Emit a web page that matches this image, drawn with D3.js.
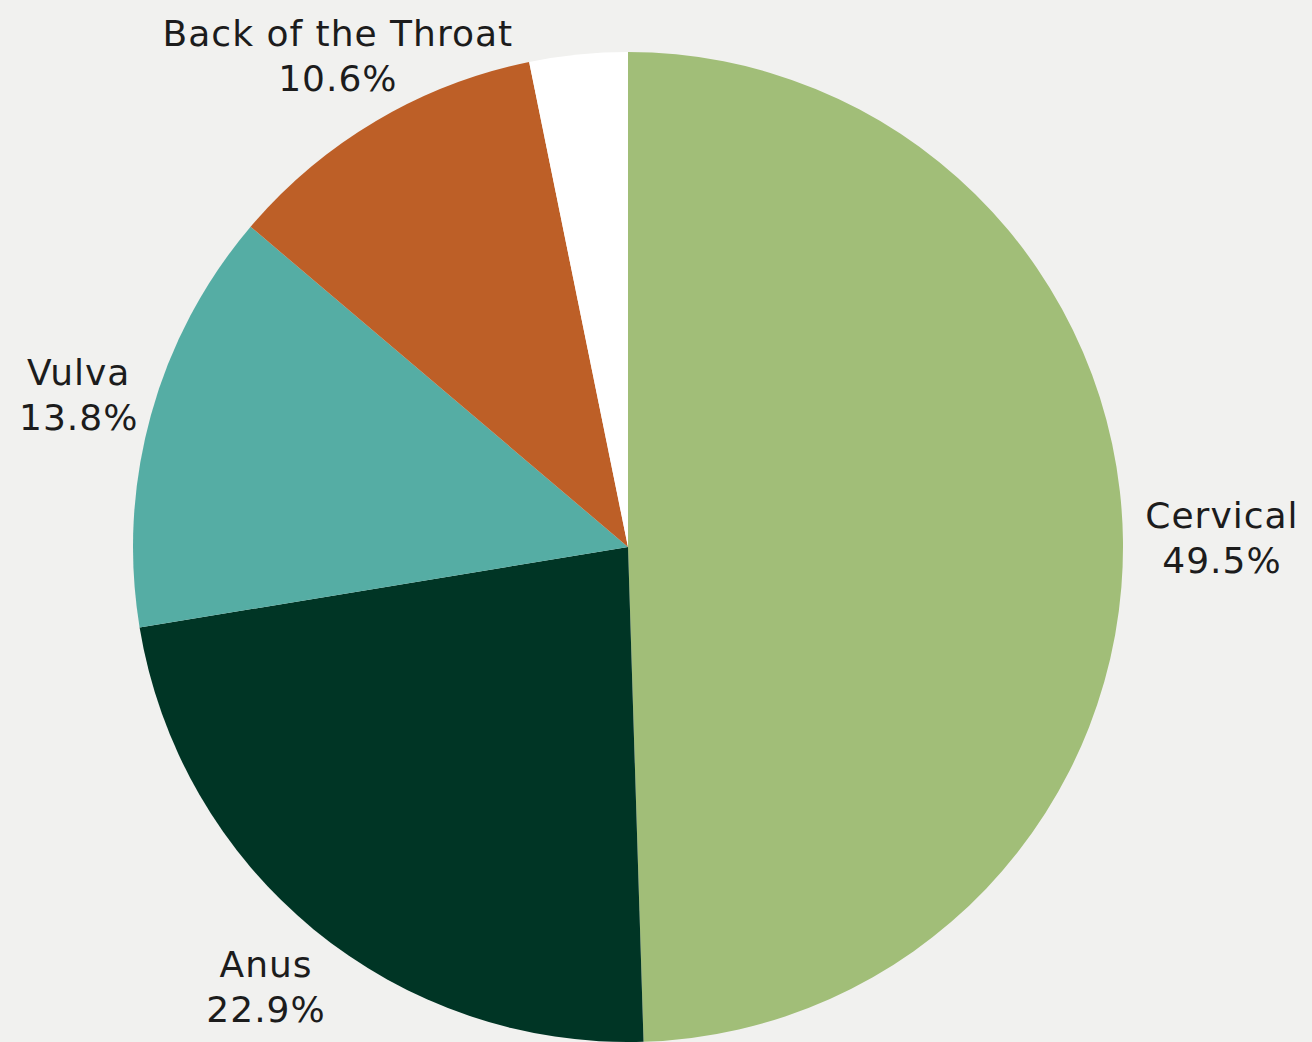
<!DOCTYPE html>
<html>
<meta charset="utf-8" />
<script src="https://d3js.org/d3.v7.min.js"></script>
<style>
  html, body { margin: 0; padding: 0; background: #f1f1ef; }
  svg text { font-family: "DejaVu Sans", "Open Sans", sans-serif; fill: #1c1c1c; letter-spacing: 1px; }
</style>
<body>
<div id="chart"></div>
<script>
// slices, clockwise from 12 o'clock
var names  = ["Cervical", "Anus", "Vulva", "Back of the Throat", ""];
var values = [49.5, 22.9, 13.8, 10.6, 3.2];
var colors = ["#a1be78", "#003525", "#55ada4", "#bd5f27", "#ffffff"];

var width = 1312, height = 1042;
var cx = 628, cy = 547, radius = 495;

var svg = d3.select("#chart").append("svg")
  .attr("width", width)
  .attr("height", height);

var g = svg.append("g")
  .attr("transform", "translate(" + cx + "," + cy + ")");

var data = names.map(function(n, i) { return { name: n, value: values[i], color: colors[i] }; });

var pie = d3.pie().sort(null).value(function(d) { return d.value; });
var arc = d3.arc().innerRadius(0).outerRadius(radius);

var arcs = pie(data);

g.selectAll("path")
  .data(arcs)
  .enter()
  .append("path")
  .attr("d", arc)
  .attr("fill", function(d) { return d.data.color; });

// labels sit a little outside the rim, pushed further on the right side
var labels = g.selectAll("g.label")
  .data(arcs.filter(function(d) { return d.data.name !== ""; }))
  .enter()
  .append("g")
  .attr("class", "label")
  .attr("transform", function(d) {
    var a = (d.startAngle + d.endAngle) / 2;
    var r = 570 + 24 * Math.max(0, Math.sin(a));
    return "translate(" + (r * Math.sin(a)) + "," + (-r * Math.cos(a)) + ")";
  });

labels.append("text")
  .attr("text-anchor", "middle")
  .attr("font-size", 36)
  .attr("y", -10)
  .text(function(d) { return d.data.name; });

labels.append("text")
  .attr("text-anchor", "middle")
  .attr("font-size", 36)
  .attr("y", 35)
  .text(function(d) { return d.data.value.toFixed(1) + "%"; });
</script>
</body>
</html>
